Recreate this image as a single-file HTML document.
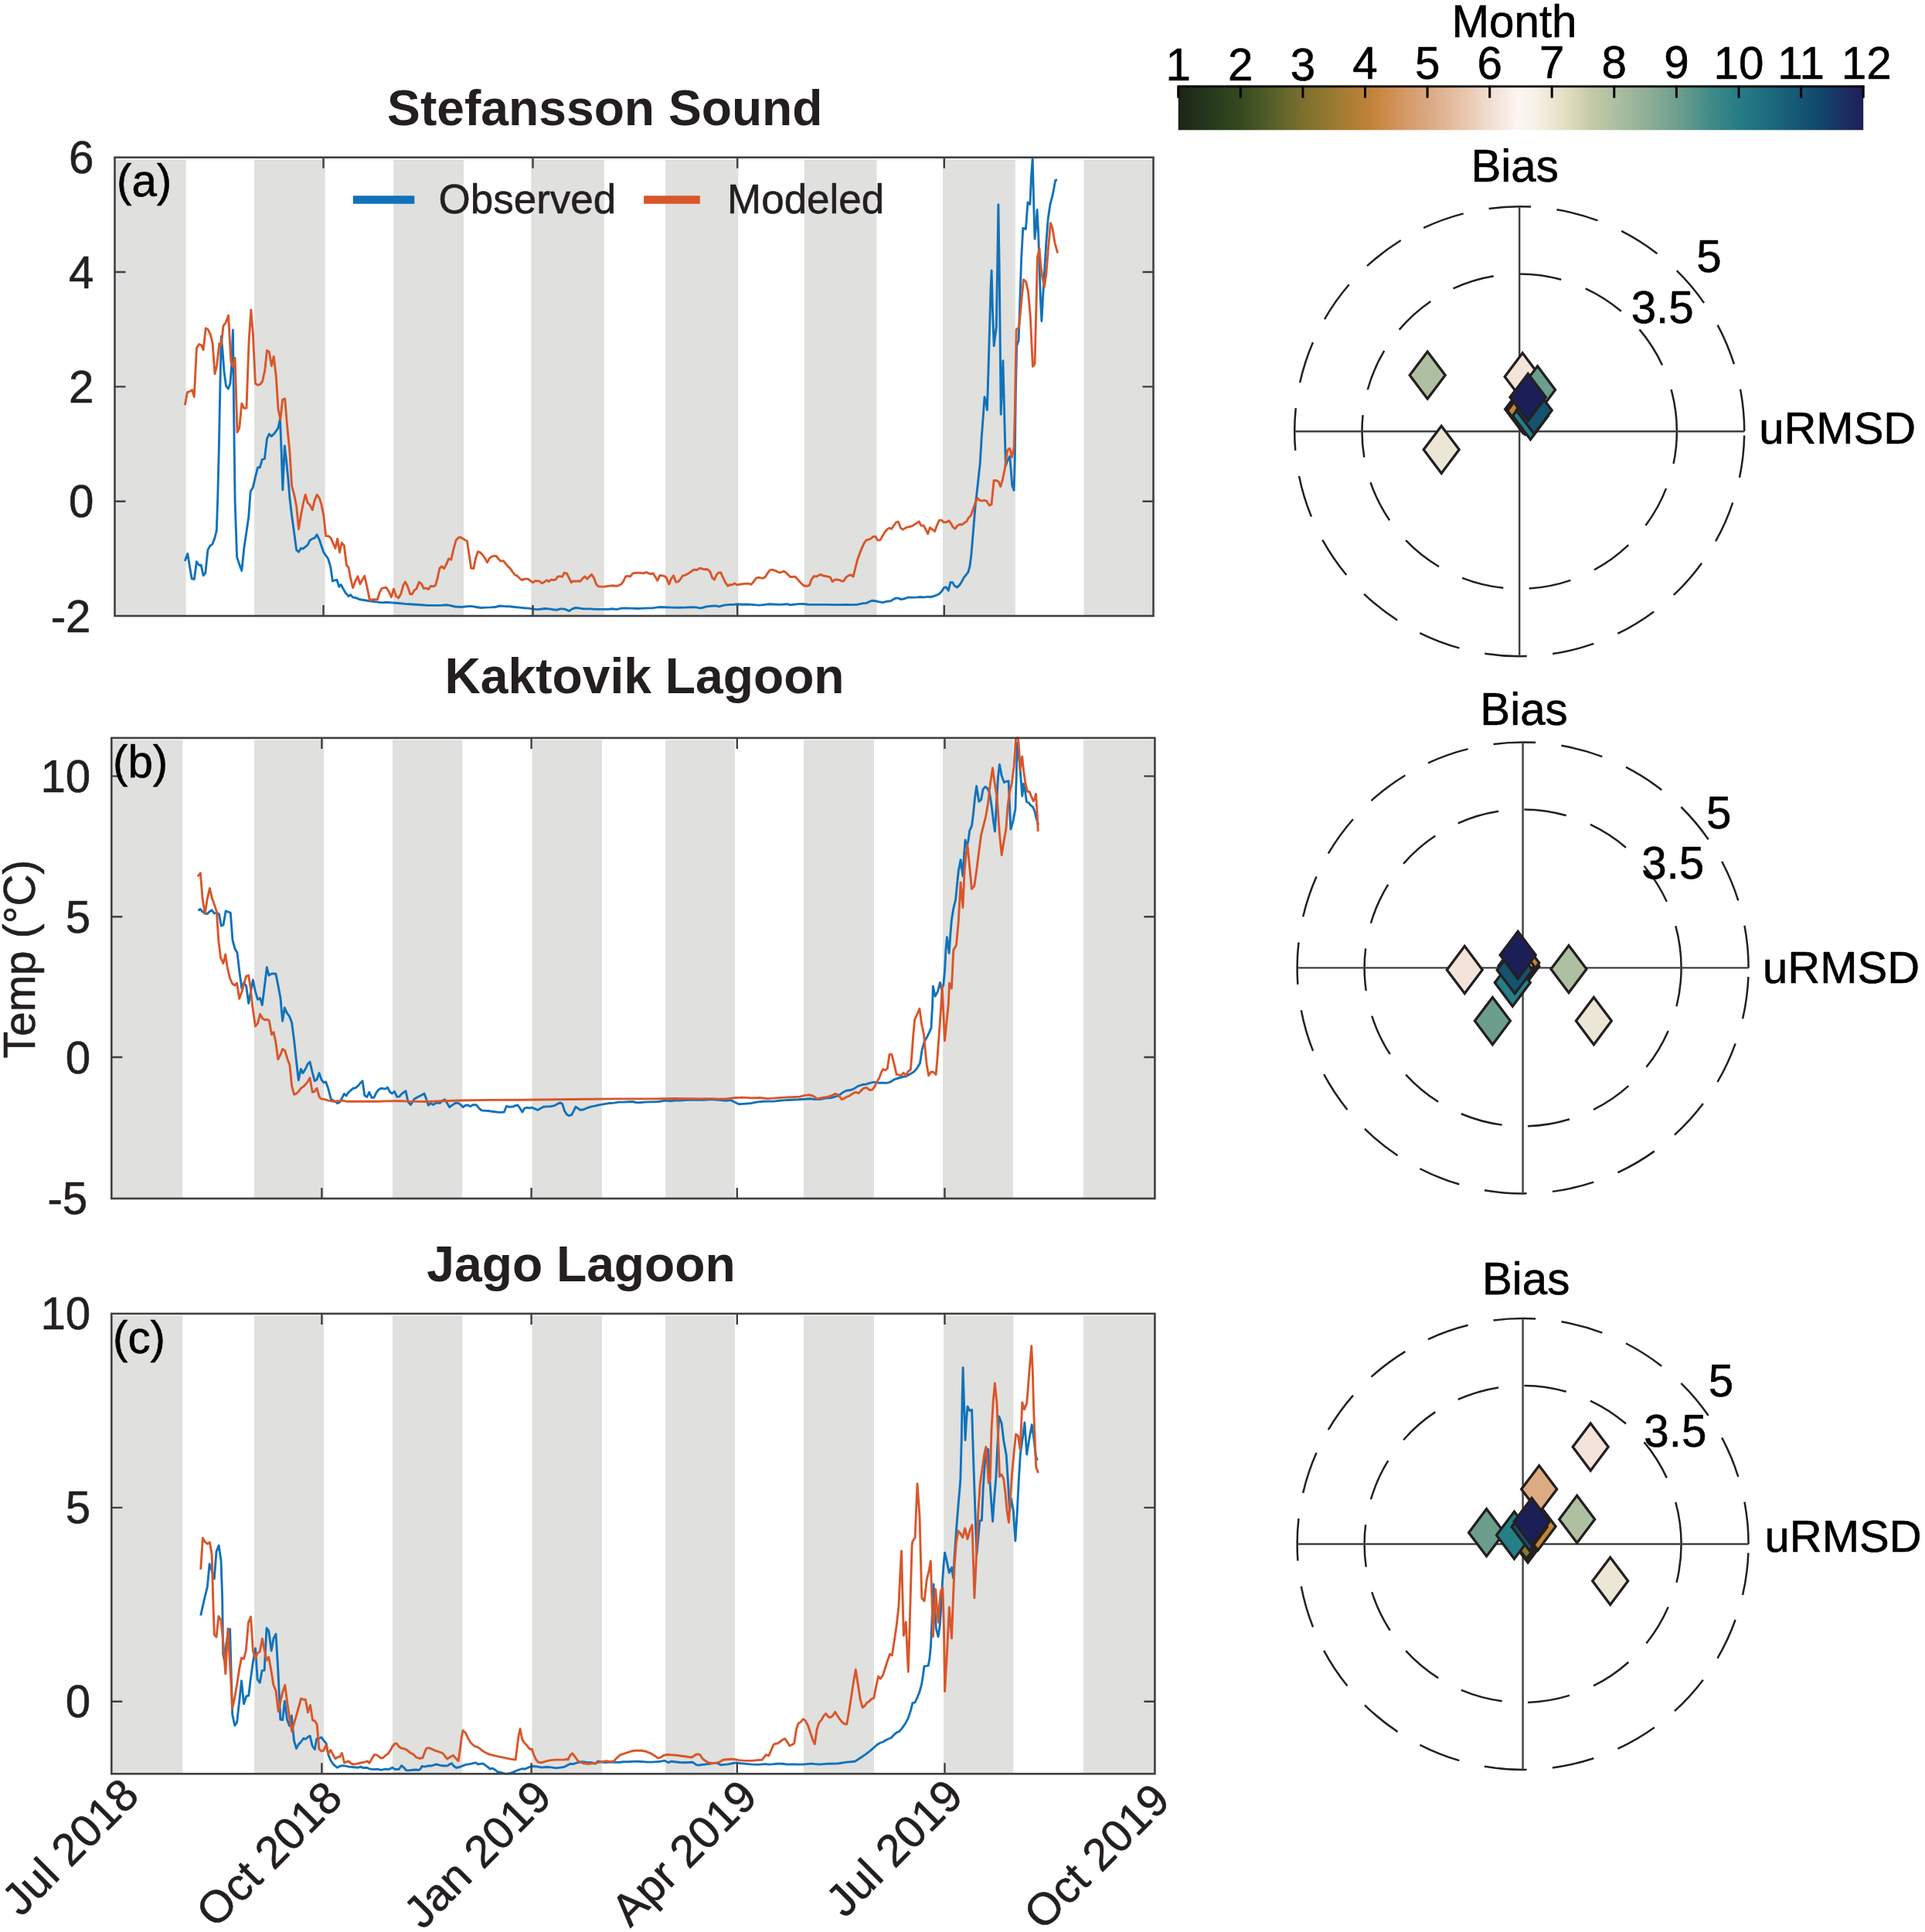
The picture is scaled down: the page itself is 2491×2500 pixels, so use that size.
<!DOCTYPE html>
<html><head><meta charset="utf-8"><title>Figure</title>
<style>html,body{margin:0;padding:0;background:#fff}svg{display:block}text{font-family:"Liberation Sans", Arial, Helvetica, sans-serif;stroke-width:0.6px;stroke-linejoin:round}text[fill='#000']{stroke:#000}text[fill='#231f20']{stroke:#231f20}text[font-weight=bold]{stroke:none}</style></head>
<body><svg width="2491" height="2500" viewBox="0 0 2491 2500">
<rect width="2491" height="2500" fill="#fff"/>
<rect x="148.0" y="206.3" width="92.7" height="590.7" fill="#e0e0de"/>
<rect x="329.1" y="206.3" width="91.6" height="590.7" fill="#e0e0de"/>
<rect x="509.1" y="206.3" width="90.9" height="590.7" fill="#e0e0de"/>
<rect x="687.3" y="206.3" width="94.5" height="590.7" fill="#e0e0de"/>
<rect x="861.1" y="206.3" width="94.2" height="590.7" fill="#e0e0de"/>
<rect x="1040.7" y="206.3" width="93.8" height="590.7" fill="#e0e0de"/>
<rect x="1220.0" y="206.3" width="93.8" height="590.7" fill="#e0e0de"/>
<rect x="1402.5" y="206.3" width="90.2" height="590.7" fill="#e0e0de"/>
<clipPath id="clipa"><rect x="148.5" y="202.2" width="1344.0" height="596.3"/></clipPath>
<polyline clip-path="url(#clipa)" points="239.3,726.1 242.8,716.4 245.5,733.3 248.2,748.9 251.3,749.5 254.4,726.7 257.5,731.3 260.2,731.3 263.1,744.7 265.8,741.6 268.9,711.6 272.0,706.0 274.5,704.8 277.6,697.1 280.3,686.7 281.8,642.2 283.4,576.0 284.9,499.4 286.3,435.2 288.0,453.8 290.0,480.7 292.5,499.4 295.4,503.1 297.9,496.3 300.0,468.3 301.4,426.9 302.5,524.2 304.1,648.4 306.6,720.9 309.7,730.2 312.8,738.5 315.9,708.5 319.0,687.8 321.7,669.2 324.2,636.0 327.3,630.8 330.4,617.4 333.5,605.0 336.2,605.0 339.3,594.6 342.4,593.6 345.5,567.7 348.4,561.5 351.1,564.6 354.2,561.9 357.3,557.8 360.0,553.6 362.5,541.8 364.2,586.3 365.8,634.0 368.3,577.0 370.4,594.6 372.9,619.5 374.9,644.3 377.6,667.1 380.7,689.9 383.6,711.6 386.5,714.3 389.4,709.5 391.9,710.1 395.2,707.5 398.1,705.4 401.0,699.2 404.3,697.1 407.2,696.1 410.1,691.9 413.2,698.1 415.9,706.4 418.8,714.7 421.7,718.8 424.6,723.0 427.7,733.3 430.4,752.0 433.3,750.9 436.0,750.3 438.7,759.2 441.2,756.5 444.3,762.3 447.4,767.5 451.1,771.6 453.6,769.6 456.7,773.1 459.8,773.3 466.0,775.8 472.2,776.8 478.4,777.8 486.7,778.9 495.0,779.9 499.2,779.3 507.4,779.9 515.7,780.5 524.0,781.4 529.7,781.7 537.0,782.3 545.3,782.8 553.6,783.4 561.9,783.4 570.3,783.4 577.5,782.8 581.7,783.4 589.0,785.0 597.3,785.5 603.5,784.8 609.7,784.4 616.0,785.5 622.2,786.5 628.4,786.1 634.7,785.9 640.9,785.5 647.1,784.0 653.4,784.6 659.6,784.8 665.8,785.5 672.1,786.1 678.3,786.7 684.5,787.1 689.1,787.9 693.9,788.6 699.1,788.2 705.3,787.5 710.5,787.9 715.7,788.8 720.9,789.2 725.1,787.9 729.2,787.9 733.4,789.2 736.5,790.6 740.6,787.9 744.8,786.5 749.0,786.9 755.2,787.9 763.5,787.9 771.8,788.4 780.1,788.4 787.4,788.4 792.6,787.7 797.8,788.6 803.0,787.3 809.2,786.9 817.5,787.1 824.8,787.5 832.1,787.1 838.3,786.9 844.5,786.9 850.8,785.9 854.9,785.5 861.2,785.7 869.5,786.1 877.8,786.3 886.1,786.1 894.4,785.7 900.6,785.9 905.8,786.9 907.3,786.8 910.4,786.0 914.5,784.9 919.7,784.3 926.0,783.9 930.5,784.9 934.3,783.9 938.4,782.9 944.7,782.4 949.9,782.2 954.4,781.8 960.3,782.2 966.5,782.0 972.7,782.4 979.0,782.9 983.1,783.1 989.4,782.4 995.6,781.8 1001.8,782.0 1008.1,782.4 1014.3,782.0 1018.9,781.6 1022.6,782.9 1026.8,782.2 1033.0,781.6 1039.2,781.4 1045.5,782.2 1053.8,782.4 1062.1,782.4 1070.4,782.4 1078.7,782.6 1087.0,782.6 1095.3,782.4 1102.6,782.6 1109.9,782.2 1116.1,780.8 1121.3,780.4 1125.5,778.3 1128.6,777.2 1132.7,777.7 1136.9,778.7 1142.1,779.7 1147.3,778.3 1152.5,777.7 1156.6,775.2 1159.7,773.9 1162.9,774.1 1166.0,775.6 1171.2,774.5 1175.3,772.9 1180.5,773.1 1186.8,772.9 1190.9,772.5 1196.1,772.9 1200.3,772.1 1204.4,772.5 1208.6,771.4 1212.7,769.8 1215.8,768.3 1219.0,764.6 1221.7,760.4 1224.2,759.6 1227.3,764.2 1229.8,753.8 1232.5,753.4 1235.0,757.9 1238.3,760.0 1241.4,757.5 1244.5,752.7 1247.4,747.1 1250.1,744.0 1252.8,740.3 1254.9,733.0 1256.8,718.4 1258.4,699.7 1260.1,679.0 1262.0,656.1 1263.6,641.6 1265.3,627.0 1266.8,612.5 1268.2,600.0 1270.2,566.7 1272.1,540.5 1274.0,513.8 1275.7,519.0 1277.4,530.5 1278.8,485.7 1280.5,426.2 1282.1,371.4 1283.1,350.0 1284.5,402.4 1286.2,447.6 1287.6,435.7 1289.3,423.8 1290.7,342.9 1291.9,264.8 1293.1,342.9 1294.3,450.0 1295.2,536.2 1296.7,497.6 1297.9,466.7 1299.0,509.5 1300.2,557.1 1301.4,602.4 1303.1,597.6 1304.8,594.0 1306.7,590.5 1308.3,609.5 1309.8,628.6 1312.1,634.5 1313.3,592.9 1314.3,509.5 1315.7,447.6 1318.1,440.5 1319.8,390.5 1321.7,333.3 1323.8,295.2 1327.4,296.4 1330.0,261.9 1332.9,264.3 1334.5,228.6 1336.2,205.2 1337.6,259.5 1339.0,309.0 1340.7,292.9 1342.1,271.4 1343.6,300.0 1345.0,342.9 1346.4,385.7 1347.9,415.5 1349.5,385.7 1351.4,354.8 1353.8,314.3 1356.2,283.3 1359.0,264.3 1362.4,251.2 1365.7,233.3 1368.1,232.9" fill="none" stroke="#1072bb" stroke-width="2.9" stroke-linejoin="round" stroke-linecap="butt"/>
<polyline clip-path="url(#clipa)" points="239.3,524.2 242.4,507.7 245.5,506.6 248.6,504.6 251.3,513.5 254.4,450.7 257.5,445.5 260.6,446.6 263.1,452.8 266.2,424.8 269.3,426.5 272.4,433.1 275.1,444.5 278.0,483.9 280.7,472.5 283.8,444.5 286.3,446.6 289.0,421.7 292.1,417.6 295.6,408.3 298.9,468.3 301.4,474.5 304.1,463.1 307.0,559.4 309.7,554.2 312.8,522.2 315.9,528.4 319.0,528.0 322.1,441.4 324.8,401.0 327.3,431.1 330.4,496.3 333.5,498.3 336.6,497.3 339.7,493.2 342.8,478.7 345.5,453.4 348.4,455.5 351.5,473.5 354.2,461.1 357.3,487.0 360.0,529.4 362.9,542.9 365.6,517.0 368.7,515.9 371.8,553.2 374.9,584.3 377.6,628.8 380.7,640.2 383.6,654.7 386.5,684.7 389.4,667.1 392.5,650.5 395.2,640.2 398.1,650.5 401.0,653.6 404.3,659.8 407.2,647.4 410.1,640.2 413.2,644.3 415.9,652.6 418.8,667.1 421.7,693.6 425.0,693.6 428.1,696.1 430.8,702.3 433.9,709.5 436.6,697.1 439.5,714.7 442.2,702.3 445.3,706.0 448.4,731.3 451.1,734.4 454.0,749.9 456.7,760.7 459.8,752.0 462.9,745.8 466.0,755.7 469.1,749.9 471.8,745.3 474.9,759.2 478.4,776.4 481.6,775.8 484.7,775.8 488.4,775.8 491.3,766.5 494.0,761.3 497.1,760.7 499.8,760.2 502.9,764.8 506.4,772.7 509.5,761.9 512.6,771.6 515.7,773.7 518.8,768.5 521.9,757.1 524.4,753.0 527.3,758.2 530.8,768.8 533.3,768.8 536.4,763.6 539.1,761.6 542.2,753.2 545.3,755.3 548.4,761.6 551.6,760.9 554.3,762.6 557.4,758.4 560.5,758.9 563.6,757.4 566.1,748.1 568.8,735.6 571.7,732.9 574.8,735.6 577.9,729.4 580.6,723.1 583.8,724.2 586.9,710.6 590.0,699.2 593.1,695.7 595.6,695.1 598.9,697.1 601.4,698.6 604.5,700.3 607.2,719.0 609.7,735.2 612.9,735.6 615.6,722.1 618.5,713.8 621.8,715.2 624.9,718.5 628.0,723.1 630.5,727.7 633.6,722.1 636.8,720.0 639.9,719.4 642.6,719.8 645.7,724.2 648.2,726.2 651.3,725.6 654.4,729.4 657.5,733.1 660.2,735.6 663.4,740.2 666.3,743.9 669.0,744.9 672.1,748.1 675.2,750.5 678.3,749.5 681.4,748.9 684.1,749.7 686.6,751.6 689.7,753.7 692.4,751.8 695.4,751.6 698.1,752.2 701.2,754.7 704.3,753.2 707.4,750.8 710.1,752.6 713.2,750.1 715.7,750.5 718.8,750.1 721.5,746.4 724.4,745.6 727.6,746.4 730.3,741.2 733.4,741.8 736.5,748.1 739.2,753.7 742.3,751.8 745.2,752.2 748.3,751.8 751.0,752.2 754.2,748.1 756.9,746.0 760.0,749.1 762.9,746.0 765.6,743.3 768.7,748.1 771.4,755.7 774.3,758.9 778.1,759.1 782.2,759.1 786.4,758.4 790.5,758.0 794.7,757.8 797.8,758.4 800.9,757.4 804.0,755.9 806.7,752.2 809.6,746.0 812.3,745.4 815.5,746.0 818.6,742.2 821.7,741.4 824.8,741.2 827.9,741.2 831.0,741.8 833.7,741.8 836.2,740.4 839.4,741.8 842.1,742.9 845.0,741.8 847.7,746.0 850.8,751.2 853.9,744.5 857.0,744.9 860.1,745.6 862.6,748.1 865.7,755.9 868.4,749.1 871.6,744.9 874.7,753.2 877.8,752.6 880.5,749.5 883.6,744.9 886.5,744.3 889.2,742.9 892.3,741.2 895.5,738.7 898.2,737.0 901.1,737.7 903.8,736.2 906.5,735.2 907.3,735.5 910.4,736.7 913.5,736.5 916.2,737.1 919.1,740.3 921.8,747.9 924.5,750.0 927.4,743.4 930.1,740.9 932.8,740.9 935.7,747.5 938.9,754.2 942.0,758.3 944.7,756.5 947.4,756.9 950.5,754.8 953.6,756.9 956.5,756.3 960.3,755.8 963.4,755.4 966.5,755.2 969.6,755.4 972.1,756.3 975.2,752.7 978.5,748.2 981.5,747.1 984.2,747.9 987.3,748.2 990.4,746.5 993.5,741.3 996.6,737.6 999.3,737.1 1002.2,738.2 1004.9,739.2 1007.6,740.7 1010.5,740.7 1013.7,739.2 1016.4,740.3 1019.5,743.4 1022.6,746.5 1025.7,746.5 1028.8,746.1 1031.9,749.2 1035.1,753.1 1038.2,756.3 1041.3,758.3 1044.4,758.3 1047.5,757.3 1050.2,749.6 1053.4,745.5 1056.3,746.1 1059.0,744.8 1062.1,743.4 1065.2,745.0 1068.3,745.5 1071.4,746.1 1074.5,747.1 1077.2,752.7 1080.4,750.0 1083.3,750.0 1086.4,750.6 1089.1,752.1 1091.8,751.7 1094.9,746.9 1097.8,744.8 1100.9,743.8 1104.1,746.1 1106.8,735.1 1109.5,724.7 1112.4,716.4 1115.3,709.1 1118.2,702.9 1120.9,699.1 1124.0,698.1 1126.9,697.0 1129.6,694.5 1132.7,694.1 1135.8,699.1 1139.0,698.9 1142.1,693.5 1145.2,688.3 1147.9,685.2 1150.8,683.1 1153.5,684.6 1156.6,680.0 1159.7,675.8 1162.4,675.2 1165.4,683.1 1168.1,685.2 1171.2,683.5 1174.3,682.1 1177.4,681.5 1180.5,680.6 1183.6,678.5 1186.3,676.9 1189.2,674.8 1191.9,680.0 1195.1,680.0 1197.8,684.8 1200.7,690.8 1203.4,682.7 1206.5,685.2 1209.6,687.7 1212.3,680.0 1215.4,673.1 1218.3,673.1 1221.5,675.8 1224.6,675.8 1227.7,673.8 1230.4,676.9 1233.1,682.1 1236.0,684.2 1239.1,680.0 1242.2,678.5 1244.9,679.0 1248.1,676.3 1250.8,674.8 1253.2,670.2 1256.4,666.9 1259.1,659.2 1262.0,650.9 1265.1,644.7 1267.8,647.4 1270.9,648.2 1273.6,647.4 1276.5,648.2 1280.3,654.0 1283.0,653.0 1286.1,621.8 1289.2,621.8 1292.1,623.3 1294.8,629.7 1297.3,620.8 1300.0,608.3 1303.8,582.1 1306.7,580.2 1309.5,591.7 1312.1,578.6 1313.3,533.3 1314.3,473.8 1315.2,426.2 1318.6,423.8 1321.7,390.5 1324.5,361.9 1327.6,364.3 1330.5,377.4 1333.3,409.5 1335.2,450.0 1336.4,474.3 1339.0,471.0 1340.5,414.3 1342.4,333.3 1345.0,321.9 1346.7,342.9 1349.0,359.5 1351.4,371.4 1353.8,354.8 1356.7,319.0 1359.5,288.6 1361.9,295.2 1365.0,314.3 1368.6,327.4" fill="none" stroke="#d9562a" stroke-width="2.9" stroke-linejoin="round" stroke-linecap="butt"/>
<path d="M418.5,203.7v14M418.5,797.0v-14" stroke="#404041" stroke-width="2.4"/>
<path d="M689.5,203.7v14M689.5,797.0v-14" stroke="#404041" stroke-width="2.4"/>
<path d="M954.2,203.7v14M954.2,797.0v-14" stroke="#404041" stroke-width="2.4"/>
<path d="M1221.8,203.7v14M1221.8,797.0v-14" stroke="#404041" stroke-width="2.4"/>
<path d="M148.5,352.0h14M1492.5,352.0h-14" stroke="#404041" stroke-width="2.4"/>
<path d="M148.5,500.4h14M1492.5,500.4h-14" stroke="#404041" stroke-width="2.4"/>
<path d="M148.5,648.7h14M1492.5,648.7h-14" stroke="#404041" stroke-width="2.4"/>
<rect x="148.5" y="203.7" width="1344.0" height="593.3" fill="none" stroke="#404041" stroke-width="2.6"/>
<text x="121.5" y="224.2" font-size="58.3" text-anchor="end" fill="#231f20">6</text>
<text x="121.5" y="372.5" font-size="58.3" text-anchor="end" fill="#231f20">4</text>
<text x="121.5" y="520.9" font-size="58.3" text-anchor="end" fill="#231f20">2</text>
<text x="121.5" y="669.2" font-size="58.3" text-anchor="end" fill="#231f20">0</text>
<text x="117.5" y="817.5" font-size="58.3" text-anchor="end" fill="#231f20">-2</text>
<rect x="144.3" y="957.5" width="92.1" height="593.4" fill="#e0e0de"/>
<rect x="329.1" y="957.5" width="89.9" height="593.4" fill="#e0e0de"/>
<rect x="508.0" y="957.5" width="90.2" height="593.4" fill="#e0e0de"/>
<rect x="688.4" y="957.5" width="90.5" height="593.4" fill="#e0e0de"/>
<rect x="861.1" y="957.5" width="89.8" height="593.4" fill="#e0e0de"/>
<rect x="1040.0" y="957.5" width="90.9" height="593.4" fill="#e0e0de"/>
<rect x="1220.0" y="957.5" width="90.9" height="593.4" fill="#e0e0de"/>
<rect x="1401.8" y="957.5" width="92.7" height="593.4" fill="#e0e0de"/>
<clipPath id="clipb"><rect x="144.3" y="953.4" width="1350.1000000000001" height="599.0000000000001"/></clipPath>
<polyline clip-path="url(#clipb)" points="256.5,1178.3 259.0,1176.3 262.1,1179.8 265.2,1181.9 268.3,1182.5 271.4,1179.4 274.1,1177.7 277.2,1181.9 280.3,1181.4 283.4,1182.5 286.3,1198.0 289.0,1197.0 292.1,1179.0 295.2,1179.8 298.3,1181.4 301.0,1216.6 304.1,1228.0 307.0,1232.8 309.7,1256.0 312.8,1278.8 315.5,1271.5 318.6,1275.7 321.7,1298.4 324.2,1285.0 327.3,1268.0 330.4,1282.9 333.5,1293.3 336.6,1291.6 339.3,1300.5 342.4,1275.7 345.3,1251.8 348.0,1262.2 351.1,1260.1 354.2,1259.7 356.9,1260.1 359.8,1274.6 362.9,1291.2 365.6,1321.2 368.3,1304.0 371.4,1310.8 374.5,1315.0 377.6,1323.3 380.7,1347.1 383.6,1374.0 386.3,1397.8 389.4,1383.3 392.1,1388.5 395.2,1383.3 398.1,1377.1 401.0,1374.0 403.9,1386.4 407.2,1398.8 410.1,1396.8 413.0,1388.5 415.9,1396.8 418.8,1400.9 421.7,1399.9 424.6,1408.2 428.1,1421.6 430.8,1424.1 433.9,1425.3 436.6,1427.8 439.5,1426.2 442.2,1421.6 445.3,1415.4 448.0,1417.9 451.1,1413.3 454.0,1410.8 457.1,1408.2 460.2,1407.7 463.3,1405.1 466.0,1401.9 469.1,1398.8 471.8,1417.5 474.9,1419.5 477.8,1413.3 480.9,1420.2 484.0,1420.2 486.7,1414.4 489.8,1410.2 492.9,1408.2 496.0,1408.6 498.7,1409.2 501.6,1407.1 504.7,1413.3 507.4,1415.0 510.5,1412.3 513.6,1419.1 516.7,1419.1 519.4,1415.8 522.3,1413.7 525.0,1411.7 528.1,1425.8 531.4,1429.6 536.0,1422.3 540.1,1419.8 544.3,1417.8 549.1,1415.1 551.6,1422.3 554.3,1430.2 557.4,1427.5 560.5,1429.6 565.1,1426.9 569.2,1427.5 572.3,1424.4 575.5,1422.8 578.6,1427.5 581.7,1432.7 585.8,1429.6 589.0,1427.5 592.7,1427.1 596.2,1429.6 599.4,1432.7 602.5,1430.2 605.6,1430.0 608.7,1431.7 611.8,1429.6 616.4,1429.8 619.7,1433.8 623.2,1436.9 628.4,1437.3 632.6,1437.5 636.8,1438.3 643.0,1439.0 648.2,1439.4 652.3,1439.0 655.5,1431.3 658.6,1432.3 663.8,1432.1 666.9,1430.6 670.0,1430.0 673.1,1434.4 675.8,1439.0 678.7,1434.2 682.1,1433.1 685.2,1433.8 688.3,1433.1 692.4,1434.8 696.0,1436.3 699.5,1434.2 703.2,1432.3 707.4,1431.9 712.6,1431.7 717.8,1430.6 721.9,1428.2 725.1,1426.9 727.8,1428.6 730.3,1436.9 733.4,1442.1 736.5,1443.7 739.6,1442.7 742.7,1436.9 744.8,1432.3 747.5,1433.8 750.6,1436.3 755.2,1435.8 759.4,1433.8 764.5,1432.1 769.7,1431.1 776.0,1429.6 782.2,1428.6 788.4,1427.5 794.7,1427.1 800.9,1426.1 807.1,1426.1 813.4,1425.7 818.6,1425.5 822.7,1426.5 827.9,1426.7 834.2,1426.1 840.4,1425.9 846.6,1425.9 852.9,1425.5 859.1,1424.4 863.2,1424.0 867.4,1424.8 873.6,1424.0 879.9,1424.0 886.1,1423.6 892.3,1423.4 898.6,1423.4 904.8,1423.4 909.0,1423.0 910.4,1423.2 920.8,1422.6 931.2,1423.6 939.5,1424.3 945.7,1423.6 950.9,1426.3 956.1,1428.8 962.3,1428.4 970.6,1427.8 979.0,1426.1 987.3,1425.3 995.6,1425.1 1001.8,1425.1 1008.1,1424.3 1016.4,1423.6 1024.7,1423.2 1033.0,1422.8 1041.3,1422.2 1048.6,1421.8 1054.8,1422.6 1062.1,1422.2 1068.3,1421.1 1075.6,1420.5 1082.9,1418.4 1087.0,1416.4 1091.2,1413.2 1095.3,1411.2 1099.5,1410.8 1104.7,1409.1 1109.9,1405.6 1116.1,1403.5 1121.3,1402.9 1126.5,1401.2 1131.7,1400.2 1136.9,1401.2 1142.1,1401.2 1147.3,1401.4 1151.4,1400.4 1157.7,1396.6 1162.9,1395.0 1168.1,1393.5 1172.2,1392.9 1176.4,1390.4 1182.6,1386.9 1186.8,1382.1 1190.5,1375.8 1193.0,1359.2 1196.1,1347.8 1199.2,1342.6 1202.3,1336.4 1205.0,1330.1 1205.9,1312.5 1206.7,1300.0 1207.3,1276.1 1210.1,1289.1 1213.3,1283.5 1216.5,1271.4 1218.3,1279.8 1220.7,1275.1 1222.6,1255.6 1223.9,1229.5 1225.4,1212.7 1228.2,1233.2 1229.7,1210.9 1231.4,1190.4 1233.8,1175.5 1236.6,1164.3 1238.4,1145.6 1240.3,1127.0 1243.1,1112.5 1245.9,1133.5 1247.4,1108.4 1249.1,1086.9 1251.1,1095.3 1253.0,1087.9 1254.7,1074.8 1257.6,1068.3 1259.3,1054.3 1261.4,1033.8 1263.6,1017.1 1266.8,1037.2 1269.6,1034.8 1272.0,1021.7 1274.8,1018.0 1277.6,1019.9 1280.4,1025.5 1283.2,1043.2 1285.4,1061.8 1287.4,1075.8 1289.3,1043.2 1291.5,1005.9 1293.4,989.1 1296.2,1004.0 1299.4,1012.4 1302.4,1011.1 1305.1,1010.6 1306.5,1043.2 1307.9,1073.0 1311.1,1061.8 1313.9,1046.9 1315.2,1005.9 1316.3,961.2 1318.2,974.2 1320.4,999.4 1322.8,1030.1 1324.5,1014.3 1326.4,1022.7 1328.4,1037.6 1331.0,1038.5 1333.8,1042.2 1336.6,1044.1 1339.1,1050.6 1341.3,1059.9 1343.7,1067.4" fill="none" stroke="#1072bb" stroke-width="2.9" stroke-linejoin="round" stroke-linecap="butt"/>
<polyline clip-path="url(#clipb)" points="255.9,1134.2 259.4,1129.7 262.1,1162.8 265.2,1182.5 268.3,1162.8 271.4,1149.4 274.5,1162.8 277.6,1171.1 280.3,1179.4 282.8,1216.6 285.5,1239.4 289.0,1246.7 291.7,1234.9 294.2,1251.8 297.3,1265.3 300.4,1272.5 303.5,1275.0 306.6,1272.1 309.7,1292.2 312.8,1283.9 315.9,1272.5 318.6,1263.2 321.7,1262.2 324.2,1278.8 326.9,1303.6 330.4,1328.0 333.5,1324.3 336.6,1312.3 339.7,1318.1 342.8,1319.8 345.9,1319.1 348.4,1321.2 351.5,1338.8 354.2,1335.7 356.9,1349.2 359.8,1370.9 362.9,1364.7 365.6,1357.4 368.7,1359.5 371.8,1369.9 374.9,1378.1 377.6,1405.1 380.7,1416.4 383.6,1415.0 386.5,1412.3 389.4,1408.2 392.5,1406.1 395.2,1403.4 398.1,1399.9 401.0,1394.7 404.3,1413.3 407.2,1412.3 410.1,1408.2 413.2,1419.5 415.9,1422.0 418.8,1422.2 421.7,1423.1 425.0,1424.1 428.1,1424.7 431.9,1425.3 437.0,1424.7 443.3,1424.1 449.5,1425.3 457.7,1425.3 468.1,1425.1 478.4,1425.3 488.8,1425.3 499.2,1424.9 509.5,1424.7 519.9,1424.7 529.2,1425.1 551.6,1425.5 593.1,1424.0 634.7,1423.4 676.2,1423.2 717.8,1422.8 759.4,1422.3 800.9,1421.9 842.5,1421.9 873.6,1421.5 909.0,1421.9 910.4,1421.6 920.8,1421.6 931.2,1422.2 941.6,1421.6 951.9,1420.5 962.3,1420.1 972.7,1420.9 983.1,1420.5 993.5,1421.6 1003.9,1420.9 1014.3,1420.1 1024.7,1419.7 1035.1,1419.1 1041.3,1417.4 1047.5,1416.8 1052.7,1418.4 1057.3,1421.6 1064.2,1420.5 1070.4,1419.5 1075.6,1418.0 1080.8,1415.3 1084.9,1416.8 1089.1,1422.6 1092.2,1421.6 1095.3,1419.5 1099.5,1417.8 1104.7,1414.3 1107.8,1413.2 1110.9,1414.7 1114.0,1411.6 1117.1,1408.5 1121.3,1407.4 1125.5,1410.5 1128.6,1410.1 1131.7,1406.4 1134.8,1399.7 1137.9,1394.5 1140.6,1387.3 1142.7,1383.5 1145.6,1384.8 1148.3,1382.7 1151.0,1364.4 1153.9,1364.4 1157.0,1376.9 1160.2,1390.4 1162.9,1390.8 1166.0,1391.8 1169.1,1388.3 1172.2,1391.4 1175.3,1386.2 1178.4,1384.2 1180.1,1362.3 1181.6,1341.6 1183.6,1319.7 1186.8,1312.5 1189.9,1305.2 1192.6,1324.9 1195.5,1338.4 1197.1,1356.1 1199.2,1377.9 1201.7,1391.8 1204.8,1386.9 1207.9,1387.3 1211.1,1390.4 1212.7,1372.7 1214.4,1349.9 1216.3,1322.9 1217.9,1300.0 1219.1,1275.1 1222.5,1346.7 1227.3,1299.9 1228.6,1272.3 1231.4,1278.9 1233.8,1229.5 1237.5,1223.0 1240.3,1192.2 1243.1,1141.9 1245.9,1174.5 1248.1,1127.0 1250.2,1104.6 1251.9,1093.5 1254.3,1117.7 1257.4,1150.3 1260.8,1146.6 1263.6,1127.0 1266.4,1104.6 1269.6,1080.4 1272.9,1067.4 1275.7,1056.2 1278.5,1039.4 1281.3,1015.2 1284.5,993.8 1286.9,1011.5 1290.2,1032.0 1293.4,1078.6 1296.2,1106.5 1299.0,1088.8 1301.8,1073.0 1304.0,1043.2 1306.5,1024.5 1309.2,1014.3 1312.0,992.9 1314.5,955.6 1317.3,953.7 1318.6,968.6 1320.1,996.6 1322.7,978.9 1324.5,996.6 1326.9,1013.4 1329.7,1024.5 1332.2,1024.5 1334.4,1030.1 1337.2,1036.6 1339.1,1032.9 1340.5,1027.3 1341.9,1048.8 1343.3,1075.8" fill="none" stroke="#d9562a" stroke-width="2.9" stroke-linejoin="round" stroke-linecap="butt"/>
<path d="M416.4,954.9v14M416.4,1550.9v-14" stroke="#404041" stroke-width="2.4"/>
<path d="M687.6,954.9v14M687.6,1550.9v-14" stroke="#404041" stroke-width="2.4"/>
<path d="M953.8,954.9v14M953.8,1550.9v-14" stroke="#404041" stroke-width="2.4"/>
<path d="M1222.5,954.9v14M1222.5,1550.9v-14" stroke="#404041" stroke-width="2.4"/>
<path d="M144.3,1004.4h14M1494.4,1004.4h-14" stroke="#404041" stroke-width="2.4"/>
<path d="M144.3,1186.2h14M1494.4,1186.2h-14" stroke="#404041" stroke-width="2.4"/>
<path d="M144.3,1368.0h14M1494.4,1368.0h-14" stroke="#404041" stroke-width="2.4"/>
<rect x="144.3" y="954.9" width="1350.1000000000001" height="596.0000000000001" fill="none" stroke="#404041" stroke-width="2.6"/>
<text x="117.3" y="1024.9" font-size="58.3" text-anchor="end" fill="#231f20">10</text>
<text x="117.3" y="1206.7" font-size="58.3" text-anchor="end" fill="#231f20">5</text>
<text x="117.3" y="1388.5" font-size="58.3" text-anchor="end" fill="#231f20">0</text>
<text x="113.3" y="1571.4" font-size="58.3" text-anchor="end" fill="#231f20">-5</text>
<rect x="144.3" y="1702.5" width="92.1" height="592.8" fill="#e0e0de"/>
<rect x="329.1" y="1702.5" width="89.9" height="592.8" fill="#e0e0de"/>
<rect x="508.0" y="1702.5" width="90.2" height="592.8" fill="#e0e0de"/>
<rect x="688.4" y="1702.5" width="90.5" height="592.8" fill="#e0e0de"/>
<rect x="861.1" y="1702.5" width="89.8" height="592.8" fill="#e0e0de"/>
<rect x="1040.0" y="1702.5" width="90.9" height="592.8" fill="#e0e0de"/>
<rect x="1221.2" y="1702.5" width="90.2" height="592.8" fill="#e0e0de"/>
<rect x="1401.8" y="1702.5" width="92.7" height="592.8" fill="#e0e0de"/>
<clipPath id="clipc"><rect x="144.3" y="1698.4" width="1350.1000000000001" height="598.4000000000001"/></clipPath>
<polyline clip-path="url(#clipc)" points="259.7,2090.5 262.4,2078.1 265.3,2065.6 268.4,2052.8 271.1,2023.8 274.2,2032.5 277.3,2042.9 280.0,2007.7 283.1,1999.8 286.0,2019.0 287.6,2065.6 288.7,2140.2 290.3,2148.4 292.8,2127.7 295.5,2109.1 297.6,2108.1 299.0,2158.8 300.7,2218.8 303.8,2232.9 306.7,2228.2 309.8,2200.2 312.5,2174.9 315.6,2204.8 318.7,2195.0 321.8,2194.0 324.5,2171.2 327.4,2150.5 330.5,2132.9 333.2,2173.3 336.3,2177.4 339.0,2161.9 342.1,2161.3 345.0,2106.6 347.7,2110.1 351.2,2136.0 353.9,2120.5 357.0,2114.3 359.7,2158.8 361.5,2196.1 362.8,2225.1 365.7,2225.5 368.4,2201.2 371.5,2225.1 374.6,2233.3 377.3,2219.9 380.4,2252.0 383.5,2262.7 386.4,2257.1 389.5,2254.0 392.6,2249.5 395.3,2250.3 398.4,2247.8 401.1,2246.2 404.2,2259.2 407.3,2263.8 409.8,2249.9 412.9,2249.5 416.0,2248.2 418.7,2252.0 422.2,2256.1 424.9,2270.6 427.8,2277.8 430.5,2282.0 433.6,2285.1 436.7,2287.2 439.8,2285.5 442.9,2284.7 447.0,2285.1 451.2,2286.1 457.4,2286.7 463.6,2287.2 466.7,2286.1 469.8,2287.6 474.0,2287.2 478.1,2288.8 482.2,2289.6 488.4,2289.2 493.0,2290.3 498.8,2289.2 502.9,2289.6 507.7,2287.2 511.2,2289.6 516.4,2289.2 519.5,2284.7 522.6,2287.2 525.7,2290.9 529.9,2290.9 534.0,2290.3 538.7,2290.0 541.4,2290.6 543.9,2289.2 546.0,2285.5 549.1,2286.1 552.2,2285.5 555.3,2284.8 558.4,2285.0 561.6,2283.8 564.7,2283.0 567.8,2283.8 571.9,2284.8 576.1,2285.0 579.2,2284.8 582.3,2282.8 584.4,2281.7 587.5,2285.5 590.6,2287.5 594.8,2286.5 599.0,2284.8 603.1,2283.4 607.3,2282.8 611.4,2281.9 615.6,2280.9 618.7,2283.0 621.8,2282.3 625.6,2282.3 628.1,2284.4 631.2,2286.5 634.3,2289.0 637.4,2288.2 640.5,2290.0 643.6,2292.7 646.8,2293.1 650.9,2294.4 655.1,2295.4 659.2,2294.8 663.4,2293.4 667.5,2291.7 671.7,2290.0 675.8,2288.6 679.0,2289.2 682.1,2287.9 685.2,2286.5 689.4,2285.5 694.5,2285.9 700.8,2287.1 707.0,2286.5 713.2,2286.9 719.5,2287.9 725.7,2287.1 729.9,2286.5 734.0,2284.4 738.2,2282.3 741.3,2282.8 745.5,2281.3 749.6,2280.3 753.8,2279.8 759.0,2280.5 765.2,2280.7 770.4,2282.3 773.5,2279.2 777.7,2279.8 781.8,2280.5 788.1,2280.3 794.3,2280.1 800.5,2280.5 806.8,2279.8 813.0,2279.8 819.2,2279.4 825.5,2279.2 831.7,2279.6 837.9,2280.1 844.2,2280.1 850.4,2279.6 855.6,2279.2 859.7,2278.2 864.9,2280.7 869.1,2279.2 873.2,2279.8 879.5,2280.5 885.7,2280.7 891.9,2280.5 896.5,2280.3 901.3,2283.8 905.5,2284.0 909.6,2283.4 914.8,2282.8 919.0,2282.3 923.3,2281.4 928.3,2281.4 932.9,2283.9 937.4,2283.4 942.4,2282.9 947.4,2281.8 953.2,2280.9 958.2,2281.8 963.2,2282.1 968.2,2282.6 973.1,2283.1 979.8,2283.4 984.8,2283.1 989.8,2282.6 994.8,2283.1 999.7,2282.9 1005.6,2282.3 1011.4,2282.3 1018.9,2283.1 1026.3,2282.9 1033.0,2283.1 1039.6,2283.1 1044.6,2282.6 1050.4,2282.1 1054.6,2282.6 1060.4,2283.1 1066.2,2282.6 1071.2,2282.3 1076.2,2282.3 1081.2,2282.1 1086.2,2281.8 1091.2,2280.9 1096.2,2280.1 1101.1,2279.8 1106.1,2279.3 1110.3,2276.8 1114.4,2274.0 1119.4,2270.6 1124.4,2266.8 1129.4,2262.7 1134.4,2258.0 1138.5,2255.5 1142.7,2254.0 1147.7,2251.0 1153.5,2248.5 1157.7,2244.0 1161.0,2241.4 1163.5,2240.7 1166.8,2236.9 1171.0,2231.1 1175.1,2223.6 1178.4,2213.6 1180.9,2203.6 1183.9,2203.1 1186.8,2197.0 1190.1,2188.7 1192.6,2179.5 1194.2,2169.6 1195.9,2156.3 1198.4,2155.9 1201.2,2155.4 1202.9,2146.3 1204.5,2129.7 1205.5,2108.1 1206.4,2086.4 1207.2,2066.5 1208.0,2049.9 1209.6,2078.7 1211.3,2107.0 1214.1,2117.8 1216.3,2102.6 1217.8,2078.7 1219.6,2046.1 1221.1,2024.3 1222.6,2009.1 1225.4,2021.1 1228.3,2035.2 1231.5,2028.3 1233.5,2041.7 1235.2,2013.5 1237.4,1980.9 1240.0,1948.3 1242.8,1915.7 1244.3,1861.3 1245.2,1807.0 1246.1,1769.6 1247.6,1817.8 1249.1,1863.5 1250.4,1839.6 1252.0,1820.0 1254.8,1825.4 1257.6,1824.3 1259.1,1872.2 1260.9,1926.5 1262.4,1970.0 1263.9,2011.3 1265.7,1991.7 1267.8,1967.8 1270.4,1967.4 1272.2,1926.5 1274.3,1893.9 1276.5,1874.8 1278.7,1875.4 1280.4,1909.1 1282.6,1941.7 1284.6,1968.9 1286.7,1937.4 1288.9,1911.3 1290.7,1872.2 1292.8,1833.0 1296.1,1841.7 1298.7,1863.5 1302.2,1883.0 1304.3,1915.7 1306.5,1954.8 1308.5,1939.6 1311.3,1954.8 1313.9,1993.9 1316.1,1959.1 1318.3,1915.7 1320.4,1880.9 1323.3,1861.3 1325.9,1840.7 1328.7,1882.0 1332.0,1861.3 1335.2,1843.5 1337.8,1861.3 1340.2,1883.0 1341.7,1888.5 1343.3,1887.8" fill="none" stroke="#1072bb" stroke-width="2.9" stroke-linejoin="round" stroke-linecap="butt"/>
<polyline clip-path="url(#clipc)" points="259.7,2030.8 262.4,1990.1 265.3,1995.2 268.4,1997.7 271.5,1995.7 274.2,2011.8 275.6,2065.6 277.3,2115.3 280.0,2118.4 282.9,2091.5 286.0,2096.7 288.7,2123.6 291.8,2166.0 294.9,2107.5 298.0,2160.9 300.7,2210.6 303.8,2196.1 306.7,2179.5 309.8,2158.8 312.5,2145.3 315.6,2146.4 318.3,2136.0 321.4,2099.8 324.5,2092.1 327.4,2136.0 330.5,2146.4 333.2,2139.1 336.3,2137.1 339.4,2120.5 342.1,2135.0 345.0,2148.4 347.7,2144.3 350.8,2160.9 353.9,2180.5 357.0,2187.8 360.1,2214.7 362.8,2202.3 365.7,2189.9 368.8,2180.5 371.9,2204.3 374.6,2223.0 377.7,2240.6 380.8,2229.2 383.5,2219.9 386.4,2209.5 389.5,2198.1 392.6,2199.2 395.3,2199.2 398.4,2215.7 401.5,2206.4 404.6,2226.1 407.3,2226.7 410.2,2231.3 412.9,2263.4 416.0,2266.0 418.7,2265.4 421.8,2257.8 424.7,2269.6 427.8,2264.4 430.9,2270.6 434.0,2275.8 436.7,2273.7 439.8,2273.3 442.5,2268.5 445.6,2281.0 448.5,2279.9 451.2,2278.9 454.3,2282.0 457.4,2283.0 460.5,2282.6 463.6,2282.0 466.7,2281.0 469.8,2280.5 472.9,2279.9 475.4,2278.9 478.1,2281.4 481.2,2275.8 484.3,2270.6 487.0,2270.6 489.9,2272.7 493.0,2275.2 496.1,2274.3 498.8,2271.6 501.9,2269.6 505.0,2265.4 507.7,2260.2 510.6,2256.5 513.3,2256.1 516.4,2260.2 519.5,2262.3 522.6,2262.7 525.7,2264.0 528.4,2266.0 531.5,2268.5 534.4,2269.6 537.5,2272.7 538.7,2274.0 542.9,2275.5 547.0,2274.6 549.1,2268.8 551.6,2262.6 554.7,2261.6 558.4,2263.2 562.6,2265.1 566.8,2266.3 570.9,2267.8 573.6,2269.2 576.1,2273.0 578.8,2276.1 582.3,2273.6 586.5,2271.5 589.6,2275.1 593.1,2278.8 595.2,2264.7 597.3,2248.1 599.0,2239.3 602.1,2241.8 605.2,2248.1 608.3,2253.9 611.4,2257.4 614.5,2259.9 617.7,2260.5 620.8,2262.6 623.9,2265.1 628.1,2267.8 633.2,2270.1 639.5,2271.7 645.7,2273.2 653.0,2274.6 660.3,2276.1 667.1,2277.1 669.0,2262.6 671.1,2246.0 673.1,2237.0 675.4,2249.1 677.5,2253.9 681.0,2257.8 684.2,2261.6 686.2,2263.6 688.3,2263.2 690.8,2270.9 693.5,2276.7 696.6,2280.3 700.4,2280.9 703.9,2279.8 708.1,2278.6 713.2,2277.6 719.5,2277.1 725.7,2277.1 730.9,2277.1 733.0,2276.1 735.1,2277.1 737.8,2271.3 740.7,2268.8 744.0,2273.0 747.5,2278.2 750.6,2280.3 754.8,2281.7 761.0,2282.5 767.3,2281.9 773.5,2280.9 779.7,2279.6 784.9,2278.8 790.1,2279.6 794.3,2278.8 798.4,2274.6 802.6,2270.9 807.8,2269.2 813.0,2267.4 818.2,2265.7 823.4,2265.1 829.6,2265.3 835.8,2266.3 842.1,2268.8 847.3,2271.9 851.4,2275.1 854.5,2274.4 858.7,2271.5 862.9,2270.5 869.1,2270.9 875.3,2271.3 881.6,2272.2 887.8,2273.0 894.0,2274.0 897.1,2273.0 900.3,2270.5 903.4,2269.9 906.1,2270.9 908.6,2275.1 911.7,2277.8 915.8,2280.3 919.0,2281.3 919.9,2281.3 923.3,2281.8 927.4,2280.9 931.6,2279.8 935.7,2277.3 940.7,2276.8 946.5,2276.3 951.5,2276.8 956.5,2277.6 961.5,2278.1 966.5,2278.4 973.1,2278.4 979.8,2277.6 986.1,2277.3 988.9,2273.5 991.4,2270.6 994.8,2271.8 998.1,2264.3 1001.1,2257.3 1003.9,2256.3 1006.4,2256.0 1009.7,2253.5 1012.7,2251.3 1015.5,2249.7 1018.9,2254.3 1021.8,2259.0 1024.7,2257.7 1027.7,2256.0 1030.5,2237.7 1033.0,2230.2 1036.3,2228.1 1039.3,2224.4 1042.1,2226.4 1045.5,2232.7 1048.8,2242.7 1051.6,2251.0 1054.3,2256.8 1057.1,2237.7 1059.9,2229.1 1062.9,2225.7 1065.9,2220.3 1068.7,2217.4 1072.1,2221.9 1074.5,2222.4 1077.5,2220.3 1080.7,2215.3 1083.7,2220.3 1086.5,2224.4 1089.5,2228.1 1092.5,2230.7 1095.8,2231.1 1098.7,2214.4 1101.5,2196.2 1104.5,2176.2 1107.3,2160.4 1110.3,2179.5 1113.1,2198.7 1116.1,2209.5 1119.4,2207.0 1121.9,2203.1 1124.4,2202.0 1127.4,2198.7 1130.7,2197.5 1133.6,2182.9 1136.6,2169.2 1139.4,2172.1 1142.4,2167.9 1145.2,2159.3 1148.5,2148.8 1151.5,2140.5 1154.3,2142.1 1157.3,2123.0 1160.2,2103.1 1163.0,2078.1 1164.6,2041.6 1166.5,2007.0 1168.0,2066.5 1169.3,2116.4 1171.0,2106.4 1172.3,2098.9 1173.5,2126.3 1175.3,2163.2 1176.8,2116.4 1178.4,2058.2 1180.1,2000.0 1180.9,1994.3 1184.1,1990.0 1187.0,1920.0 1190.0,1961.3 1192.8,2067.8 1196.1,2071.7 1199.3,2043.9 1202.2,2032.0 1204.3,2020.0 1205.9,2067.8 1207.4,2117.8 1209.1,2085.2 1210.7,2056.5 1212.4,2078.7 1214.1,2099.3 1215.7,2076.5 1217.4,2059.1 1220.0,2054.8 1221.5,2111.3 1222.6,2188.7 1223.9,2165.7 1225.4,2140.0 1228.3,2079.8 1231.5,2120.0 1233.0,2078.7 1235.2,2024.3 1237.4,1996.1 1240.0,1980.9 1242.8,1984.1 1245.7,1989.6 1248.7,1977.6 1252.0,1991.7 1255.2,1979.8 1258.0,1973.3 1259.6,2024.3 1260.9,2067.8 1263.0,2024.3 1265.7,1959.1 1268.3,1920.0 1271.1,1900.4 1273.9,1880.9 1275.9,1872.2 1277.6,1893.9 1279.3,1918.9 1281.3,1913.5 1283.0,1850.4 1285.2,1813.5 1287.4,1790.0 1290.0,1815.7 1291.7,1861.3 1293.5,1910.9 1296.1,1908.0 1298.7,1913.5 1301.1,1933.0 1303.0,1954.8 1305.4,1970.0 1307.4,1937.4 1309.8,1904.8 1312.4,1876.5 1314.6,1855.9 1317.4,1858.0 1320.0,1875.4 1321.5,1846.1 1322.8,1814.6 1325.4,1823.9 1328.7,1815.7 1332.0,1774.3 1334.8,1741.7 1336.3,1774.3 1337.8,1828.7 1339.6,1872.2 1340.7,1898.3 1343.5,1905.9" fill="none" stroke="#d9562a" stroke-width="2.9" stroke-linejoin="round" stroke-linecap="butt"/>
<path d="M416.4,1699.9v14M416.4,2295.3v-14" stroke="#404041" stroke-width="2.4"/>
<path d="M687.6,1699.9v14M687.6,2295.3v-14" stroke="#404041" stroke-width="2.4"/>
<path d="M953.8,1699.9v14M953.8,2295.3v-14" stroke="#404041" stroke-width="2.4"/>
<path d="M1222.5,1699.9v14M1222.5,2295.3v-14" stroke="#404041" stroke-width="2.4"/>
<path d="M144.3,1950.9h14M1494.4,1950.9h-14" stroke="#404041" stroke-width="2.4"/>
<path d="M144.3,2201.8h14M1494.4,2201.8h-14" stroke="#404041" stroke-width="2.4"/>
<rect x="144.3" y="1699.9" width="1350.1000000000001" height="595.4000000000001" fill="none" stroke="#404041" stroke-width="2.6"/>
<text x="117.3" y="1720.4" font-size="58.3" text-anchor="end" fill="#231f20">10</text>
<text x="117.3" y="1971.4" font-size="58.3" text-anchor="end" fill="#231f20">5</text>
<text x="117.3" y="2222.3" font-size="58.3" text-anchor="end" fill="#231f20">0</text>
<text x="151" y="254" font-size="58.3" fill="#000">(a)</text>
<text x="146" y="1005.7" font-size="58.3" fill="#000">(b)</text>
<text x="146" y="1750.7" font-size="58.3" fill="#000">(c)</text>
<text x="782.8" y="162.3" font-size="64.2" font-weight="bold" text-anchor="middle" fill="#231f20">Stefansson Sound</text>
<text x="834" y="897" font-size="64.2" font-weight="bold" text-anchor="middle" fill="#231f20">Kaktovik Lagoon</text>
<text x="752" y="1658" font-size="64.2" font-weight="bold" text-anchor="middle" fill="#231f20">Jago Lagoon</text>
<path d="M456.9,258.5H536.3" stroke="#1072bb" stroke-width="10.5"/>
<path d="M833.1,258.5H905.8" stroke="#d9562a" stroke-width="10.5"/>
<text x="567.5" y="275.8" font-size="53.0" fill="#231f20">Observed</text>
<text x="941" y="275.8" font-size="53.0" fill="#231f20">Modeled</text>
<text transform="translate(45.3,1241) rotate(-90)" font-size="57" text-anchor="middle" fill="#231f20">Temp (°C)</text>
<text transform="translate(182.8,2326.0) rotate(-45)" font-size="58.3" text-anchor="end" fill="#231f20">Jul 2018</text>
<text transform="translate(445.9,2329.5) rotate(-45)" font-size="58.3" text-anchor="end" fill="#231f20">Oct 2018</text>
<text transform="translate(716.6,2328.5) rotate(-45)" font-size="58.3" text-anchor="end" fill="#231f20">Jan 2019</text>
<text transform="translate(982.8,2328.0) rotate(-45)" font-size="58.3" text-anchor="end" fill="#231f20">Apr 2019</text>
<text transform="translate(1249.1,2327.3) rotate(-45)" font-size="58.3" text-anchor="end" fill="#231f20">Jul 2019</text>
<text transform="translate(1516.7,2332.5) rotate(-45)" font-size="58.3" text-anchor="end" fill="#231f20">Oct 2019</text>
<defs><linearGradient id="tarn" x1="0" x2="1" y1="0" y2="0"><stop offset="0" stop-color="#1c2416"/><stop offset="0.047" stop-color="#263a1c"/><stop offset="0.09" stop-color="#34491f"/><stop offset="0.137" stop-color="#55602a"/><stop offset="0.18" stop-color="#7a6f2d"/><stop offset="0.227" stop-color="#9a7a30"/><stop offset="0.272" stop-color="#bb8037"/><stop offset="0.295" stop-color="#cb8744"/><stop offset="0.3375" stop-color="#d69c6c"/><stop offset="0.364" stop-color="#dba882"/><stop offset="0.417" stop-color="#e7c5ac"/><stop offset="0.4536" stop-color="#f1ddd0"/><stop offset="0.496" stop-color="#fdf6f3"/><stop offset="0.522" stop-color="#f6f1e6"/><stop offset="0.546" stop-color="#ece6d2"/><stop offset="0.575" stop-color="#dcdabb"/><stop offset="0.601" stop-color="#c5cba6"/><stop offset="0.6355" stop-color="#afc0a2"/><stop offset="0.68" stop-color="#92b098"/><stop offset="0.728" stop-color="#6e9f8d"/><stop offset="0.775" stop-color="#438c88"/><stop offset="0.8175" stop-color="#267d85"/><stop offset="0.865" stop-color="#1c6a7d"/><stop offset="0.91" stop-color="#155573"/><stop offset="0.939" stop-color="#11466c"/><stop offset="0.97" stop-color="#1b2f61"/><stop offset="1" stop-color="#1f1f57"/></linearGradient></defs>
<rect x="1524.7" y="110.7" width="886.4999999999998" height="57.60000000000001" fill="url(#tarn)"/>
<path d="M1524.4,111.9H2412.3999999999996" stroke="#000" stroke-width="2.9"/>
<path d="M1524.7,110.7v16" stroke="#000" stroke-width="3"/>
<text x="1524.7" y="104" font-size="58.3" text-anchor="middle" fill="#000">1</text>
<path d="M1605.3,110.7v16" stroke="#000" stroke-width="3"/>
<text x="1605.3" y="104.3" font-size="58.3" text-anchor="middle" fill="#000">2</text>
<path d="M1685.9,110.7v16" stroke="#000" stroke-width="3"/>
<text x="1685.9" y="104.3" font-size="58.3" text-anchor="middle" fill="#000">3</text>
<path d="M1766.5,110.7v16" stroke="#000" stroke-width="3"/>
<text x="1766.5" y="101.8" font-size="58.3" text-anchor="middle" fill="#000">4</text>
<path d="M1847.1,110.7v16" stroke="#000" stroke-width="3"/>
<text x="1847.1" y="101.8" font-size="58.3" text-anchor="middle" fill="#000">5</text>
<path d="M1927.7,110.7v16" stroke="#000" stroke-width="3"/>
<text x="1927.7" y="101.8" font-size="58.3" text-anchor="middle" fill="#000">6</text>
<path d="M2008.2,110.7v16" stroke="#000" stroke-width="3"/>
<text x="2008.2" y="101.2" font-size="58.3" text-anchor="middle" fill="#000">7</text>
<path d="M2088.8,110.7v16" stroke="#000" stroke-width="3"/>
<text x="2088.8" y="100.8" font-size="58.3" text-anchor="middle" fill="#000">8</text>
<path d="M2169.4,110.7v16" stroke="#000" stroke-width="3"/>
<text x="2169.4" y="101.2" font-size="58.3" text-anchor="middle" fill="#000">9</text>
<path d="M2250.0,110.7v16" stroke="#000" stroke-width="3"/>
<text x="2250.0" y="102" font-size="58.3" text-anchor="middle" fill="#000">10</text>
<path d="M2330.6,110.7v16" stroke="#000" stroke-width="3"/>
<text x="2330.6" y="101.8" font-size="58.3" text-anchor="middle" fill="#000">11</text>
<path d="M2411.2,110.7v16" stroke="#000" stroke-width="3"/>
<text x="2415.2" y="102.4" font-size="58.3" text-anchor="middle" fill="#000">12</text>
<text x="1959.5" y="47.8" font-size="58.3" text-anchor="middle" fill="#000">Month</text>
<path d="M2257.2,558.2A291,291 0 1 0 1675.2,558.2A291,291 0 1 0 2257.2,558.2" fill="none" stroke="#231f20" stroke-width="2.5" stroke-dasharray="54.9 33.47"/>
<path d="M2169.9,558.2A203.7,203.7 0 1 0 1762.5,558.2A203.7,203.7 0 1 0 2169.9,558.2" fill="none" stroke="#231f20" stroke-width="2.5" stroke-dasharray="54.9 33.47"/>
<path d="M1675.2,558.2H2257.2M1966.2,267.20000000000005V849.2" stroke="#404041" stroke-width="2.4" fill="none"/>
<path d="M1970.7,499.0L1993.7,529.6L1970.7,560.2L1947.7,529.6Z" fill="#1f2418" stroke="#231f20" stroke-width="3.3" stroke-linejoin="miter"/>
<path d="M1972.0,499.4L1995.0,530.0L1972.0,560.6L1949.0,530.0Z" fill="#2b3d1c" stroke="#231f20" stroke-width="3.3" stroke-linejoin="miter"/>
<path d="M1973.0,500.4L1996.0,531.0L1973.0,561.6L1950.0,531.0Z" fill="#857a2c" stroke="#231f20" stroke-width="3.3" stroke-linejoin="miter"/>
<path d="M1973.8,500.8L1996.8,531.4L1973.8,562.0L1950.8,531.4Z" fill="#c28634" stroke="#231f20" stroke-width="3.3" stroke-linejoin="miter"/>
<path d="M1977.3,483.4L2000.3,514.0L1977.3,544.6L1954.3,514.0Z" fill="#dcab82" stroke="#231f20" stroke-width="3.3" stroke-linejoin="miter"/>
<path d="M1970.2,456.8L1993.2,487.4L1970.2,518.0L1947.2,487.4Z" fill="#f3e3d8" stroke="#231f20" stroke-width="3.3" stroke-linejoin="miter"/>
<path d="M1865.2,551.2L1888.2,581.8L1865.2,612.4L1842.2,581.8Z" fill="#ece6d4" stroke="#231f20" stroke-width="3.3" stroke-linejoin="miter"/>
<path d="M1847.2,454.9L1870.2,485.5L1847.2,516.1L1824.2,485.5Z" fill="#aec0a1" stroke="#231f20" stroke-width="3.3" stroke-linejoin="miter"/>
<path d="M1989.6,473.8L2012.6,504.4L1989.6,535.0L1966.6,504.4Z" fill="#6b9e8c" stroke="#231f20" stroke-width="3.3" stroke-linejoin="miter"/>
<path d="M1980.5,507.5L2003.5,538.1L1980.5,568.7L1957.5,538.1Z" fill="#257f86" stroke="#231f20" stroke-width="3.3" stroke-linejoin="miter"/>
<path d="M1985.2,500.4L2008.2,531.0L1985.2,561.6L1962.2,531.0Z" fill="#14526f" stroke="#231f20" stroke-width="3.3" stroke-linejoin="miter"/>
<path d="M1977.3,483.4L2000.3,514.0L1977.3,544.6L1954.3,514.0Z" fill="#1c1f57" stroke="#231f20" stroke-width="3.3" stroke-linejoin="miter"/>
<text x="1960.2" y="234.6" font-size="58.3" text-anchor="middle" fill="#000">Bias</text>
<text x="2276.2" y="573.8" font-size="58" fill="#000">uRMSD</text>
<text x="2195.2" y="352.2" font-size="58.3" fill="#000">5</text>
<text x="2110.7" y="418.2" font-size="58.3" fill="#000">3.5</text>
<path d="M2262.6,1252.4A292,292 0 1 0 1678.6,1252.4A292,292 0 1 0 2262.6,1252.4" fill="none" stroke="#231f20" stroke-width="2.5" stroke-dasharray="54.9 33.47"/>
<path d="M2175.6,1252.4A205,205 0 1 0 1765.6,1252.4A205,205 0 1 0 2175.6,1252.4" fill="none" stroke="#231f20" stroke-width="2.5" stroke-dasharray="54.9 33.47"/>
<path d="M1678.6,1252.4H2262.6M1970.6,960.4000000000001V1544.4" stroke="#404041" stroke-width="2.4" fill="none"/>
<path d="M1968.6,1220.0L1991.6,1250.6L1968.6,1281.2L1945.6,1250.6Z" fill="#1f2418" stroke="#231f20" stroke-width="3.3" stroke-linejoin="miter"/>
<path d="M1968.4,1219.6L1991.4,1250.2L1968.4,1280.8L1945.4,1250.2Z" fill="#2b3d1c" stroke="#231f20" stroke-width="3.3" stroke-linejoin="miter"/>
<path d="M1968.2,1219.4L1991.2,1250.0L1968.2,1280.6L1945.2,1250.0Z" fill="#857a2c" stroke="#231f20" stroke-width="3.3" stroke-linejoin="miter"/>
<path d="M1968.8,1215.5L1991.8,1246.1L1968.8,1276.7L1945.8,1246.1Z" fill="#c28634" stroke="#231f20" stroke-width="3.3" stroke-linejoin="miter"/>
<path d="M1962.0,1219.4L1985.0,1250.0L1962.0,1280.6L1939.0,1250.0Z" fill="#dcab82" stroke="#231f20" stroke-width="3.3" stroke-linejoin="miter"/>
<path d="M1895.3,1224.3L1918.3,1254.9L1895.3,1285.5L1872.3,1254.9Z" fill="#f3e3d8" stroke="#231f20" stroke-width="3.3" stroke-linejoin="miter"/>
<path d="M2062.4,1290.5L2085.4,1321.1L2062.4,1351.7L2039.4,1321.1Z" fill="#ece6d4" stroke="#231f20" stroke-width="3.3" stroke-linejoin="miter"/>
<path d="M2030.0,1223.4L2053.0,1254.0L2030.0,1284.6L2007.0,1254.0Z" fill="#aec0a1" stroke="#231f20" stroke-width="3.3" stroke-linejoin="miter"/>
<path d="M1931.4,1290.5L1954.4,1321.1L1931.4,1351.7L1908.4,1321.1Z" fill="#6b9e8c" stroke="#231f20" stroke-width="3.3" stroke-linejoin="miter"/>
<path d="M1957.3,1241.0L1980.3,1271.6L1957.3,1302.2L1934.3,1271.6Z" fill="#257f86" stroke="#231f20" stroke-width="3.3" stroke-linejoin="miter"/>
<path d="M1960.2,1224.6L1983.2,1255.2L1960.2,1285.8L1937.2,1255.2Z" fill="#14526f" stroke="#231f20" stroke-width="3.3" stroke-linejoin="miter"/>
<path d="M1964.2,1205.2L1987.2,1235.8L1964.2,1266.4L1941.2,1235.8Z" fill="#1c1f57" stroke="#231f20" stroke-width="3.3" stroke-linejoin="miter"/>
<text x="1972.0" y="938.1" font-size="58.3" text-anchor="middle" fill="#000">Bias</text>
<text x="2281.1" y="1272.1" font-size="58" fill="#000">uRMSD</text>
<text x="2208.1" y="1071.8" font-size="58.3" fill="#000">5</text>
<text x="2124.2" y="1136.8" font-size="58.3" fill="#000">3.5</text>
<path d="M2262.6,1998.0A292,292 0 1 0 1678.6,1998.0A292,292 0 1 0 2262.6,1998.0" fill="none" stroke="#231f20" stroke-width="2.5" stroke-dasharray="54.9 33.47"/>
<path d="M2175.6,1998.0A205,205 0 1 0 1765.6,1998.0A205,205 0 1 0 2175.6,1998.0" fill="none" stroke="#231f20" stroke-width="2.5" stroke-dasharray="54.9 33.47"/>
<path d="M1678.6,1998.0H2262.6M1970.6,1706.0V2290.0" stroke="#404041" stroke-width="2.4" fill="none"/>
<path d="M1977.1,1960.8L2000.1,1991.4L1977.1,2022.0L1954.1,1991.4Z" fill="#1f2418" stroke="#231f20" stroke-width="3.3" stroke-linejoin="miter"/>
<path d="M1983.5,1939.9L2006.5,1970.5L1983.5,2001.1L1960.5,1970.5Z" fill="#2b3d1c" stroke="#231f20" stroke-width="3.3" stroke-linejoin="miter"/>
<path d="M1975.1,1955.9L1998.1,1986.5L1975.1,2017.1L1952.1,1986.5Z" fill="#857a2c" stroke="#231f20" stroke-width="3.3" stroke-linejoin="miter"/>
<path d="M1990.1,1944.7L2013.1,1975.3L1990.1,2005.9L1967.1,1975.3Z" fill="#c28634" stroke="#231f20" stroke-width="3.3" stroke-linejoin="miter"/>
<path d="M1991.7,1896.4L2014.7,1927.0L1991.7,1957.6L1968.7,1927.0Z" fill="#dcab82" stroke="#231f20" stroke-width="3.3" stroke-linejoin="miter"/>
<path d="M2058.2,1841.7L2081.2,1872.3L2058.2,1902.9L2035.2,1872.3Z" fill="#f3e3d8" stroke="#231f20" stroke-width="3.3" stroke-linejoin="miter"/>
<path d="M2083.7,2015.2L2106.7,2045.8L2083.7,2076.4L2060.7,2045.8Z" fill="#ece6d4" stroke="#231f20" stroke-width="3.3" stroke-linejoin="miter"/>
<path d="M2040.7,1935.3L2063.7,1965.9L2040.7,1996.5L2017.7,1965.9Z" fill="#aec0a1" stroke="#231f20" stroke-width="3.3" stroke-linejoin="miter"/>
<path d="M1923.6,1952.6L1946.6,1983.2L1923.6,2013.8L1900.6,1983.2Z" fill="#6b9e8c" stroke="#231f20" stroke-width="3.3" stroke-linejoin="miter"/>
<path d="M1959.5,1956.0L1982.5,1986.6L1959.5,2017.2L1936.5,1986.6Z" fill="#257f86" stroke="#231f20" stroke-width="3.3" stroke-linejoin="miter"/>
<path d="M1979.2,1945.2L2002.2,1975.8L1979.2,2006.4L1956.2,1975.8Z" fill="#14526f" stroke="#231f20" stroke-width="3.3" stroke-linejoin="miter"/>
<path d="M1982.1,1938.5L2005.1,1969.1L1982.1,1999.7L1959.1,1969.1Z" fill="#1c1f57" stroke="#231f20" stroke-width="3.3" stroke-linejoin="miter"/>
<text x="1974.6" y="1675.4" font-size="58.3" text-anchor="middle" fill="#000">Bias</text>
<text x="2283.6" y="2007.5" font-size="58" fill="#000">uRMSD</text>
<text x="2210.8" y="1807.2" font-size="58.3" fill="#000">5</text>
<text x="2127.3" y="1872.2" font-size="58.3" fill="#000">3.5</text>
</svg></body></html>
